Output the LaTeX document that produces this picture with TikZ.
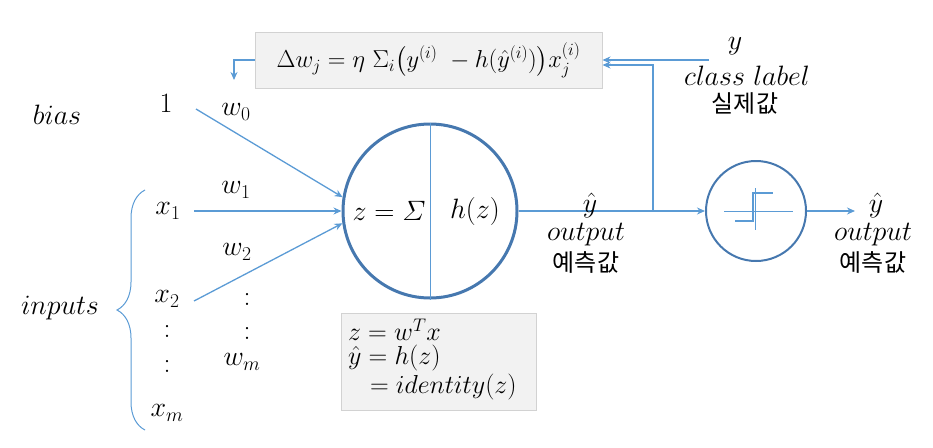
\RequirePackage{fix-cm}
\documentclass[tikz,border=0pt]{standalone}
\usepackage{amsmath}
\usepackage{fontspec}
\newfontfamily\kr{Noto Sans CJK KR}
\usetikzlibrary{arrows.meta,decorations.pathreplacing,calc}
\definecolor{ln}{RGB}{91,155,213}
\definecolor{cb}{RGB}{70,120,175}
\definecolor{bx}{RGB}{242,242,242}
\definecolor{bd}{RGB}{210,210,210}
\newcommand{\krt}{\fontsize{24}{28}\selectfont\kr}
\begin{document}
\begin{tikzpicture}[x=1pt,y=-1pt,font=\fontsize{28}{32}\selectfont,
  conn/.style={draw=ln,line width=1.3pt},
  arr/.style={conn,-{Stealth[length=8pt,width=7pt]}},
  txt/.style={inner sep=0pt,outer sep=0pt},
  graybox/.style={draw=bd,fill=bx,line width=1pt}]
\useasboundingbox (0,0) rectangle (933,447);

% formula box
\node[graybox,minimum width=347pt,minimum height=56pt,inner sep=0pt,font=\fontsize{24.5}{28}\selectfont] (fb) at (428.5,60) {$\Delta w_j = \eta\ \Sigma_i\bigl(y^{(i)}\ -h(\hat{y}^{(i)})\bigr)x_j^{(i)}$};
\coordinate (fbdown) at (234,80);
\draw[arr] (fb.west) -| (fbdown);

% labels right top
\node[txt] (ylab) at (735,46) {$y$};
\node[txt] (cls) at (747,76) {$class\ label$};
\node[txt] (real) at (745,104) {\krt 실제값};

% main neuron
\node[circle,draw=cb,line width=3pt,minimum size=174pt,inner sep=0pt] (c) at (430,211) {};
\draw[ln,line width=0.8pt] (c.north) -- (c.south);
\node[txt] (zs) at (389,211) {$z=\varSigma$};
\node[txt] (hz) at (475,211) {$h(z)$};

% inputs
\node[txt] (bias) at (57,115) {$bias$};
\node[txt] (one) at (166,103) {$1$};
\node[txt] (w0) at (236,112) {$w_0$};
\node[txt] (x1) at (168,211) {$x_1$};
\node[txt] (w1) at (236,190) {$w_1$};
\node[txt] (w2) at (237,252) {$w_2$};
\node[txt] (x2) at (167,299) {$x_2$};
\node[txt] (xd1) at (167,331) {$:$};
\node[txt] (xd2) at (167,366) {$:$};
\node[txt] (wd1) at (247,299) {$:$};
\node[txt] (wd2) at (247,333) {$:$};
\node[txt] (wm) at (242,362) {$w_m$};
\node[txt] (xm) at (167,413) {$x_m$};
\node[txt] (inp) at (60,308) {$inputs$};
\draw[ln,line width=1pt,decorate,decoration={brace,amplitude=28pt,aspect=0.5}] (145,430) -- (145,190);

\coordinate (s0) at (196,109);
\coordinate (s1) at (194,211);
\coordinate (s2) at (194,301);
\draw[arr] (s0) -- (c.171);
\draw[arr] (s1) -- (c.180);
\draw[arr] (s2) -- (c.188);

% output and junction
\coordinate (j) at (653,211);
\node[circle,draw=cb,line width=2pt,minimum size=100pt,inner sep=0pt] (s) at (756,211) {};
\draw[conn] (c.east) -- (j);
\draw[arr] (j) -- (s.west);
\coordinate (jt) at (653,65);
\draw[arr] (j) -- (jt) -- ($(fb.east)+(0,5)$);
\coordinate (yl) at (709,60);
\draw[arr] (yl) -- (fb.east);

% step function
\draw[ln,line width=1pt] (724,211) -- (793,211);
\draw[ln,line width=1pt] (755,188) -- (755,230);
\draw[ln,line width=1.5pt] (735,221) -- (753,221) -- (753,193) -- (773,193);

% output labels
\node[txt] (yh1) at (590,205) {$\hat{y}$};
\node[txt] (out1) at (586,235) {$output$};
\node[txt] (pr1) at (586,262) {\krt 예측값};
\coordinate (oe) at (855,211);
\draw[arr] (s.east) -- (oe);
\node[txt] (yh2) at (876,205) {$\hat{y}$};
\node[txt] (out2) at (873,235) {$output$};
\node[txt] (pr2) at (873,262) {\krt 예측값};

% bottom box
\node[graybox,minimum width=195pt,minimum height=97pt,inner sep=0pt] (bb) at (438.5,361.5) {};
\begin{scope}[font=\fontsize{26}{30}\selectfont]
\node[txt,anchor=west] (e1) at (348,330) {$z=w^T x$};
\node[txt,anchor=west] (e2) at (348,358) {$\hat{y}=h(z)$};
\node[txt,anchor=west] (e3) at (370,387) {$=identity(z)$};
\end{scope}
\end{tikzpicture}
\end{document}
